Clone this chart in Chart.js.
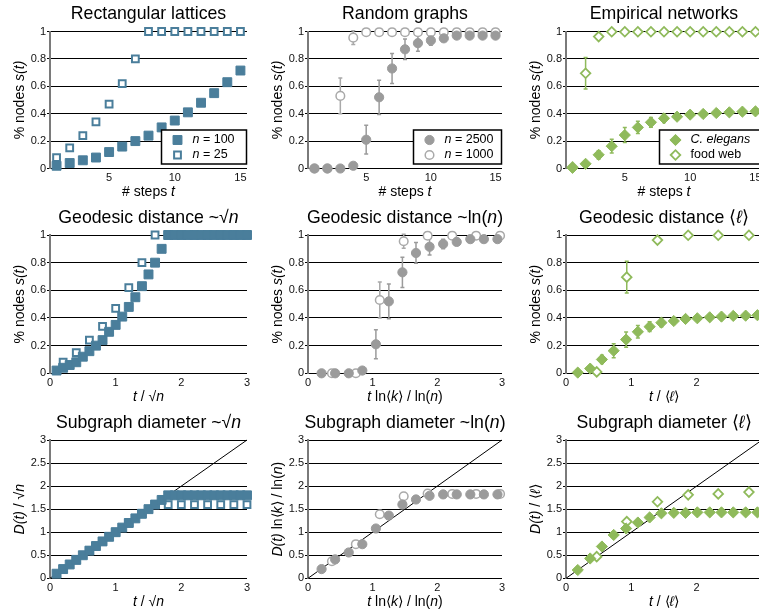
<!DOCTYPE html>
<html>
<head>
<meta charset="utf-8">
<script src="https://cdn.jsdelivr.net/npm/chart.js@4.4.0/dist/chart.umd.min.js"></script>
<style>
html, body { margin: 0; padding: 0; background: #fff; overflow: hidden; width: 759px; height: 611px; }
canvas { position: absolute; }
</style>
</head>
<body>
<script>
// time steps t
const steps = [1, 2, 3, 4, 5, 6, 7, 8, 9, 10, 11, 12, 13, 14, 15];

// Rectangular lattices: % nodes s(t)
const lat100S = [0.02, 0.04, 0.06, 0.08, 0.12, 0.16, 0.20, 0.24, 0.30, 0.35, 0.41, 0.48, 0.55, 0.63, 0.715,
                 0.80, 0.90, 1, 1, 1, 1, 1, 1, 1, 1, 1, 1, 1, 1, 1];
const lat25S = [0.08, 0.15, 0.24, 0.34, 0.47, 0.62, 0.80, 1, 1, 1, 1, 1, 1, 1, 1];
// t / sqrt(n)
const lat100X = [0.1, 0.2, 0.3, 0.4, 0.5, 0.6, 0.7, 0.8, 0.9, 1.0, 1.1, 1.2, 1.3, 1.4, 1.5,
                 1.6, 1.7, 1.8, 1.9, 2.0, 2.1, 2.2, 2.3, 2.4, 2.5, 2.6, 2.7, 2.8, 2.9, 3.0];
const lat25X = [0.2, 0.4, 0.6, 0.8, 1.0, 1.2, 1.4, 1.6, 1.8, 2.0, 2.2, 2.4, 2.6, 2.8, 3.0];
// D(t) / sqrt(n)
const lat100D = [0.1, 0.2, 0.3, 0.4, 0.5, 0.6, 0.7, 0.8, 0.9, 1.0, 1.1, 1.2, 1.3, 1.4, 1.5,
                 1.6, 1.7, 1.8, 1.8, 1.8, 1.8, 1.8, 1.8, 1.8, 1.8, 1.8, 1.8, 1.8, 1.8, 1.8];
const lat25D = [0.2, 0.4, 0.6, 0.8, 1.0, 1.2, 1.4, 1.6, 1.6, 1.6, 1.6, 1.6, 1.6, 1.6, 1.6];

// Random graphs
const rg2500S = [0, 0, 0, 0.02, 0.21, 0.52, 0.73, 0.87, 0.915, 0.935, 0.95, 0.97, 0.97, 0.97, 0.97];
const rg2500E = [0, 0, 0, 0.01, 0.105, 0.125, 0.11, 0.075, 0.06, 0.035, 0.02, 0.015, 0.01, 0.01, 0.01];
const rg1000S = [0, 0, 0.53, 0.955, 0.995, 0.995, 0.995, 0.995, 0.995, 0.995, 0.995, 0.995, 0.995, 0.995, 0.995];
const rg1000E = [0, 0, 0.13, 0.05, 0.005, 0, 0, 0, 0, 0, 0, 0, 0, 0, 0];
const rg2500X = [0.21, 0.42, 0.63, 0.84, 1.05, 1.25, 1.46, 1.67, 1.88, 2.09, 2.30, 2.51, 2.72, 2.93];
const rg1000X = [0.37, 0.74, 1.11, 1.48, 1.85, 2.23, 2.60, 2.97];
const rg2500D = [0.2, 0.41, 0.56, 0.74, 1.08, 1.36, 1.6, 1.71, 1.79, 1.82, 1.82, 1.82, 1.82, 1.82];
const rg1000D = [0.37, 0.74, 1.39, 1.78, 1.84, 1.83, 1.83, 1.83];

// Empirical networks
const ceS = [0.005, 0.034, 0.10, 0.163, 0.244, 0.30, 0.337, 0.366, 0.378, 0.393, 0.398, 0.405, 0.41, 0.415, 0.417, 0.42];
const ceE = [0.005, 0.01, 0.03, 0.05, 0.055, 0.045, 0.035, 0.03, 0.02, 0.015, 0.012, 0.01, 0.01, 0.01, 0.01, 0.01];
const fwS = [0.01, 0.695, 0.963, 0.998, 0.998, 0.998, 0.998, 0.998, 0.998, 0.998, 0.998, 0.998, 0.998, 0.998, 0.998, 0.998];
const fwE = [0, 0.115, 0.02, 0, 0, 0, 0, 0, 0, 0, 0, 0, 0, 0, 0, 0];
const ceX = [0.18, 0.37, 0.55, 0.73, 0.92, 1.10, 1.28, 1.46, 1.65, 1.83, 2.01, 2.20, 2.38, 2.56, 2.75, 2.93];
const fwX = [0.47, 0.93, 1.40, 1.87, 2.33, 2.80];
const ceD = [0.18, 0.43, 0.69, 0.94, 1.08, 1.21, 1.32, 1.41, 1.42, 1.42, 1.43, 1.43, 1.43, 1.43, 1.43, 1.43];
const fwD = [0.47, 1.23, 1.66, 1.81, 1.83, 1.87];

// y = x reference line
const diagX = [0, 3];

// tick labels
const stepTicks = [5, 10, 15];
const ratioTicks = [0, 1, 2, 3];
const fracTicks = [0, 0.2, 0.4, 0.6, 0.8, 1];
const diamTicks = [0, 0.5, 1, 1.5, 2, 2.5, 3];

const BLUE = '#4a7e9b';
const GRAY = '#9b9b9b';
const GRAY_OPEN = '#a9a9a9';
const GREEN = '#8fba5b';
const FONT = "'Liberation Sans', Arial, Helvetica, sans-serif";

Chart.defaults.font.family = FONT;
Chart.defaults.font.size = 11;
Chart.defaults.color = '#111';

function pts(xs, ys) {
    return xs.map((x, i) => ({ x: x, y: ys[i] }));
}

// marker styles
function filledSquare(data) {
    return { data, pointStyle: 'rect', pointRadius: 6.3, pointBackgroundColor: BLUE, pointBorderColor: BLUE, pointBorderWidth: 1, clip: false };
}
function openSquare(data) {
    return { data, pointStyle: 'rect', pointRadius: 4.8, pointBackgroundColor: '#fff', pointBorderColor: BLUE, pointBorderWidth: 2, clip: false };
}
function filledCircle(data, errors) {
    return { data, errors, errorColor: GRAY, pointStyle: 'circle', pointRadius: 4.6, pointBackgroundColor: GRAY, pointBorderColor: GRAY, pointBorderWidth: 1, clip: false };
}
function openCircle(data, errors) {
    return { data, errors, errorColor: GRAY_OPEN, pointStyle: 'circle', pointRadius: 4.3, pointBackgroundColor: '#fff', pointBorderColor: GRAY_OPEN, pointBorderWidth: 1.5, clip: false };
}
function filledDiamond(data, errors) {
    return { data, errors, errorColor: GREEN, pointStyle: 'rectRot', pointRadius: 5.6, pointBackgroundColor: GREEN, pointBorderColor: GREEN, pointBorderWidth: 1, clip: false };
}
function openDiamond(data, errors) {
    return { data, errors, errorColor: GREEN, pointStyle: 'rectRot', pointRadius: 4.8, pointBackgroundColor: '#fff', pointBorderColor: GREEN, pointBorderWidth: 1.8, clip: false };
}
function diagLine() {
    return { data: pts(diagX, diagX), showLine: true, pointRadius: 0, borderColor: '#000', borderWidth: 1, clip: false };
}

// text with _italic_ parts
function rich(ctx, str, x, y, size, align) {
    const parts = str.split('_');
    const fontOf = i => (i % 2 ? 'italic ' : '') + size + 'px ' + FONT;
    let w = 0;
    parts.forEach((s, i) => { ctx.font = fontOf(i); w += ctx.measureText(s).width; });
    let cx = align === 'left' ? x : x - w / 2;
    ctx.textAlign = 'left';
    parts.forEach((s, i) => {
        ctx.font = fontOf(i);
        ctx.fillText(s, cx, y);
        cx += ctx.measureText(s).width;
    });
}

// Error bars drawn from dataset.errors
const errorBars = {
    id: 'errorBars',
    beforeDatasetsDraw(chart) {
        const ctx = chart.ctx, xs = chart.scales.x, ys = chart.scales.y;
        chart.data.datasets.forEach(ds => {
            if (!ds.errors) return;
            ctx.save();
            ctx.strokeStyle = ds.errorColor;
            ctx.lineWidth = 1.5;
            ds.data.forEach((d, i) => {
                const e = ds.errors[i];
                if (!e || e < 0.02) return;
                const px = xs.getPixelForValue(d.x);
                const top = ys.getPixelForValue(d.y + e);
                const bot = ys.getPixelForValue(d.y - e);
                ctx.beginPath();
                ctx.moveTo(px, top); ctx.lineTo(px, bot);
                ctx.moveTo(px - 2, top); ctx.lineTo(px + 2, top);
                ctx.moveTo(px - 2, bot); ctx.lineTo(px + 2, bot);
                ctx.stroke();
            });
            ctx.restore();
        });
    }
};

function panelText(p) {
    return {
        id: 'panelText',
        afterDraw(chart) {
            const ctx = chart.ctx, a = chart.chartArea;
            const mid = (a.left + a.right) / 2;
            ctx.save();
            ctx.fillStyle = '#000';
            ctx.textBaseline = 'middle';
            rich(ctx, p.title, mid, a.top - 17, 17.7);
            rich(ctx, p.xLabel, mid, a.bottom + 23.5, 14);
            ctx.save();
            ctx.translate(a.left - 30, (a.top + a.bottom) / 2);
            ctx.rotate(-Math.PI / 2);
            rich(ctx, p.yLabel, 0, 0, 14);
            ctx.restore();

            if (p.legend) {
                const bw = p.legend.width, bh = 34;
                const bx = a.right - bw - 0.5, by = a.bottom - bh - 4.5;
                ctx.fillStyle = '#fff';
                ctx.fillRect(bx, by, bw, bh);
                ctx.strokeStyle = '#000';
                ctx.lineWidth = 1.5;
                ctx.strokeRect(bx, by, bw, bh);
                p.legend.items.forEach((it, k) => {
                    const ds = chart.data.datasets[it.ds];
                    const yy = by + 10 + k * 15;
                    ctx.fillStyle = ds.pointBackgroundColor;
                    ctx.strokeStyle = ds.pointBorderColor;
                    ctx.lineWidth = ds.pointBorderWidth;
                    Chart.helpers.drawPoint(ctx, { pointStyle: ds.pointStyle, radius: ds.pointRadius, borderWidth: ds.pointBorderWidth, rotation: 0 }, bx + 16, yy);
                    ctx.fillStyle = '#000';
                    rich(ctx, it.label, bx + 31, yy, 12.5, 'left');
                });
            }
            ctx.restore();
        }
    };
}

const cols = [
    { x: 0, w: 255, axisW: 50, padR: 8 },
    { x: 255, w: 255, axisW: 53, padR: 8 },
    { x: 510, w: 265, axisW: 56, padR: 13 }
];
const rows = [
    { y: 0, h: 200, padT: 31.5, axisH: 31.5, xMin: 0.5, xMax: 15.5, xTicks: stepTicks, yMax: 1, yTicks: fracTicks },
    { y: 200, h: 205, padT: 35, axisH: 31.7, xMin: 0, xMax: 3, xTicks: ratioTicks, yMax: 1, yTicks: fracTicks },
    { y: 405, h: 206, padT: 35, axisH: 32.7, xMin: 0, xMax: 3, xTicks: ratioTicks, yMax: 3, yTicks: diamTicks }
];

function makePanel(r, c, p) {
    const row = rows[r], col = cols[c];
    const cv = document.createElement('canvas');
    cv.width = col.w;
    cv.height = row.h;
    cv.style.left = col.x + 'px';
    cv.style.top = row.y + 'px';
    document.body.appendChild(cv);
    return new Chart(cv, {
        type: 'scatter',
        data: { datasets: p.datasets },
        options: {
            responsive: false,
            animation: false,
            devicePixelRatio: 1,
            layout: { padding: { left: 0, right: col.padR, top: row.padT, bottom: 0 } },
            plugins: { legend: { display: false }, tooltip: { enabled: false } },
            scales: {
                x: {
                    type: 'linear', min: row.xMin, max: row.xMax,
                    afterFit: s => { s.height = row.axisH; },
                    afterBuildTicks: s => { s.ticks = row.xTicks.map(v => ({ value: v })); },
                    grid: { display: false, drawTicks: false },
                    border: { display: false },
                    ticks: { padding: 3, maxRotation: 0, autoSkip: false, color: '#111', callback: v => String(v) }
                },
                y: {
                    type: 'linear', min: 0, max: row.yMax,
                    afterFit: s => { s.width = col.axisW; },
                    afterBuildTicks: s => { s.ticks = row.yTicks.map(v => ({ value: v })); },
                    grid: { color: '#000', lineWidth: 1, drawTicks: true, tickLength: 3 },
                    border: { display: true, color: '#7a7a7a', width: 2 },
                    ticks: { padding: 1, autoSkip: false, color: '#111', callback: v => String(v) }
                }
            }
        },
        plugins: [errorBars, panelText(p)]
    });
}

// Row 1: % nodes vs # steps
makePanel(0, 0, {
    title: 'Rectangular lattices', xLabel: '# steps _t_', yLabel: '% nodes _s(t)_',
    datasets: [filledSquare(pts(steps, lat100S)), openSquare(pts(steps, lat25S))],
    legend: { width: 85, items: [{ ds: 0, label: '_n_ = 100' }, { ds: 1, label: '_n_ = 25' }] }
});
makePanel(0, 1, {
    title: 'Random graphs', xLabel: '# steps _t_', yLabel: '% nodes _s(t)_',
    datasets: [filledCircle(pts(steps, rg2500S), rg2500E), openCircle(pts(steps, rg1000S), rg1000E)],
    legend: { width: 88, items: [{ ds: 0, label: '_n_ = 2500' }, { ds: 1, label: '_n_ = 1000' }] }
});
makePanel(0, 2, {
    title: 'Empirical networks', xLabel: '# steps _t_', yLabel: '% nodes _s(t)_',
    datasets: [filledDiamond(pts(steps, ceS), ceE), openDiamond(pts(steps, fwS), fwE)],
    legend: { width: 102, items: [{ ds: 0, label: '_C. elegans_' }, { ds: 1, label: 'food web' }] }
});

// Row 2: geodesic distance scaling
makePanel(1, 0, {
    title: 'Geodesic distance ~√_n_', xLabel: '_t_ / √_n_', yLabel: '% nodes _s(t)_',
    datasets: [filledSquare(pts(lat100X, lat100S)), openSquare(pts(lat25X, lat25S))]
});
makePanel(1, 1, {
    title: 'Geodesic distance ~ln(_n_)', xLabel: '_t_ ln⟨_k_⟩ / ln(_n_)', yLabel: '% nodes _s(t)_',
    datasets: [filledCircle(pts(rg2500X, rg2500S), rg2500E), openCircle(pts(rg1000X, rg1000S), rg1000E)]
});
makePanel(1, 2, {
    title: 'Geodesic distance ⟨_ℓ_⟩', xLabel: '_t_ / ⟨_ℓ_⟩', yLabel: '% nodes _s(t)_',
    datasets: [filledDiamond(pts(ceX, ceS), ceE), openDiamond(pts(fwX, fwS), fwE)]
});

// Row 3: subgraph diameter
makePanel(2, 0, {
    title: 'Subgraph diameter ~√_n_', xLabel: '_t_ / √_n_', yLabel: '_D(t)_ / √_n_',
    datasets: [filledSquare(pts(lat100X, lat100D)), openSquare(pts(lat25X, lat25D)), diagLine()]
});
makePanel(2, 1, {
    title: 'Subgraph diameter ~ln(_n_)', xLabel: '_t_ ln⟨_k_⟩ / ln(_n_)', yLabel: '_D(t)_ ln⟨_k_⟩ / ln(_n_)',
    datasets: [filledCircle(pts(rg2500X, rg2500D)), openCircle(pts(rg1000X, rg1000D)), diagLine()]
});
makePanel(2, 2, {
    title: 'Subgraph diameter ⟨_ℓ_⟩', xLabel: '_t_ / ⟨_ℓ_⟩', yLabel: '_D(t)_ / ⟨_ℓ_⟩',
    datasets: [filledDiamond(pts(ceX, ceD)), openDiamond(pts(fwX, fwD)), diagLine()]
});
</script>
</body>
</html>
